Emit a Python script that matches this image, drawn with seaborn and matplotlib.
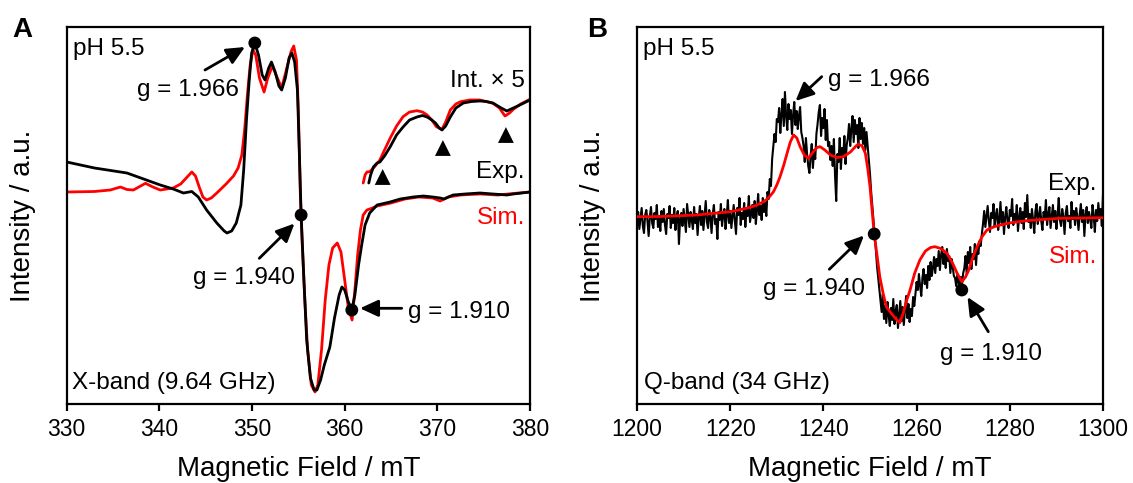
import numpy as np
import matplotlib
matplotlib.use("Agg")
import matplotlib.pyplot as plt
import seaborn as sns

# ---------------- Panel A : X-band (9.64 GHz) ----------------
xa_exp_field = [330.0, 331.0, 333.0, 336.5, 338.0, 340.1, 341.5, 342.6, 343.5, 344.2, 345.1, 346.2, 347.0, 347.3,
                347.8, 348.3, 348.8, 349.1, 349.4, 349.7, 349.96, 350.3, 350.7, 351.1, 351.4, 351.8, 352.1, 352.5,
                352.9, 353.2, 353.6, 354.0, 354.3, 354.6, 354.9, 355.1, 355.3, 355.6, 355.9, 356.3, 356.7, 357.0,
                357.4, 357.8, 358.4, 358.9, 359.4, 359.7, 360.0, 360.4, 360.77, 361.1, 361.5, 361.8, 362.2, 362.7,
                363.5, 364.9, 366.0, 367.4, 368.5, 369.5, 370.3, 370.7, 371.7, 373.0, 374.6, 376.0, 377.5, 378.2, 380.0]
xa_exp_int = [242, 240, 236, 231, 226, 219, 215, 211, 212.5, 207, 194, 181, 173, 171,
              173, 181, 199, 234, 284, 324, 351, 361, 349, 329, 324, 336, 342, 332,
              318, 314, 326, 346, 351, 342, 314, 254, 189, 124, 64, 26, 14, 14,
              24, 39, 57, 86, 109, 117, 114, 102, 94, 109, 139, 157, 179, 191,
              199, 202, 205, 207, 208, 207, 206, 205, 209, 210, 211, 210, 209, 210, 212]

xa_sim_field = [330.0, 333.0, 334.7, 335.8, 336.5, 337.2, 338.5, 339.3, 340.1, 341.5, 342.3, 342.8, 343.5, 343.9,
                344.3, 344.7, 345.1, 345.6, 346.2, 347.2, 348.0, 348.5, 348.9, 349.2, 349.5, 349.8, 350.1, 350.4,
                350.8, 351.3, 351.7, 352.2, 352.6, 353.2, 353.7, 354.2, 354.5, 354.8, 355.0, 355.2, 355.4, 355.7,
                356.0, 356.4, 356.8, 357.1, 357.5, 357.9, 358.3, 358.7, 359.2, 359.6, 360.0, 360.4, 360.8, 361.1,
                361.4, 361.7, 362.0, 362.4, 363.0, 363.5, 365.0, 366.5, 368.0, 369.5, 370.3, 371.2, 372.5, 374.6,
                376.5, 378.2, 380.0]
xa_sim_int = [212, 212.5, 214, 217, 214.5, 214, 220.7, 217, 214, 216, 220, 225, 232, 228,
              217, 207, 204, 206, 211, 220, 228, 236, 249, 274, 309, 339, 354, 349,
              326, 312, 326, 338, 329, 316, 334, 352, 358, 344, 294, 214, 164, 104,
              54, 19, 12, 19, 54, 104, 139, 156, 161, 152, 124, 96, 84, 114,
              149, 174, 189, 194, 196, 198, 201, 205, 207, 206, 203, 207, 209, 210,
              209, 210.5, 212]

# inset, intensity x 5
xa_exp5_field = [362.6, 362.8, 363.1, 363.5, 363.8, 364.3, 364.9, 365.6, 366.3, 367.0, 367.8, 368.4, 368.9, 369.4,
                 369.8, 370.2, 370.5, 370.9, 371.4, 372.0, 372.8, 373.7, 374.6, 375.3, 376.0, 376.8, 377.5, 378.2,
                 378.9, 380.0]
xa_exp5_int = [221, 229, 237, 241, 242, 248, 257, 269, 277, 284, 287, 288.5, 287, 284,
               281, 276, 274, 278, 287, 296, 301, 302.5, 303, 302.5, 301, 296.5, 293, 296,
               299, 304]
xa_sim5_field = [362.0, 362.2, 362.4, 362.7, 363.2, 363.8, 364.3, 364.9, 365.6, 366.3, 367.0, 367.8, 368.4, 368.9,
                 369.4, 369.9, 370.5, 370.9, 371.4, 372.0, 372.5, 373.5, 374.6, 376.0, 376.7, 377.3, 377.8, 378.2,
                 379.0, 380.0]
xa_sim5_int = [221, 229, 232, 232.3, 237, 244, 254, 265.7, 278, 287.3, 292, 293.3, 292, 289,
               284, 277.3, 274.7, 282, 294, 300, 302.3, 304, 304, 300.7, 296, 288, 291, 294.7,
               300, 304.7]

xa_marker_field = [364.1, 370.6, 377.4]
xa_marker_int = [227, 256, 269]

xa_g_field = [350.3, 355.3, 360.77]
xa_g_int = [361, 189, 94]
xa_g_labels = ["g = 1.966", "g = 1.940", "g = 1.910"]

# ---------------- Panel B : Q-band (34 GHz) ----------------
qb_field_start, qb_field_end = 1200.0, 1300.0   # sampled every 0.25 mT
qb_exp_int = [
    # 1200.00 - 1228.00
    180, 192, 175, 186, 196, 178, 171, 189, 194, 183,
    168, 187, 197, 181, 176, 191, 185, 199, 177, 188,
    173, 193, 182, 195, 179, 170, 190, 186, 198, 176,
    189, 181, 196, 174, 187, 193, 160, 185, 191, 178,
    195, 183, 172, 200, 188, 177, 192, 184, 175, 197,
    181, 190, 169, 186, 198, 179, 193, 174, 188, 203,
    182, 176, 194, 187, 171, 190, 199, 180, 185, 165,
    192, 184, 200, 178, 189, 195, 175, 188, 204, 181,
    193, 176, 187, 199, 183, 170, 196, 189, 206, 179,
    191, 185, 201, 177, 195, 188, 208, 182, 190, 199,
    186, 203, 180, 194, 210, 189, 198, 184, 206, 192,
    201, 188, 212,
    # 1228.25 - 1230.00
    205, 225, 218, 245, 258, 270, 262, 285,
    # 1230.25 - 1235.50
    282, 296, 271, 290, 305, 278, 312, 288, 274, 300, 285, 294, 270, 289, 302, 279, 293, 275, 288, 297, 272, 266,
    # 1235.75 - 1238.50
    258, 242, 266, 250, 238, 231, 248, 260, 236, 254, 245, 270,
    # 1238.75 - 1241.00
    280, 292, 299, 268, 286, 276, 295, 264, 284, 258,
    # 1241.25 - 1245.00
    262, 244, 258, 238, 265, 228, 203, 250, 242, 266, 235, 256, 247, 268, 240, 259,
    # 1245.25 - 1249.50
    266, 280, 258, 275, 288, 262, 284, 270, 279, 256, 286, 265, 281, 260, 276, 254, 272, 258,
    # 1249.75 - 1252.00
    245, 230, 212, 198, 184, 170, 155, 138, 126, 115,
    # 1252.25 - 1259.50
    104, 92, 110, 85, 98, 81, 102, 89, 78, 96, 84, 105, 80, 93, 99,
    76, 90, 103, 83, 97, 79, 94, 108, 86, 100, 82, 95, 88, 107, 98,
    # 1259.75 - 1264.00
    110, 122, 114, 130, 118, 108, 126, 135, 120, 129, 116, 138, 124, 142, 128, 136, 147, 131,
    # 1264.25 - 1268.00
    145, 138, 153, 134, 149, 157, 140, 150, 136, 155, 143, 148, 131, 145, 137, 128,
    # 1268.25 - 1270.00
    126, 118, 130, 122, 114, 127, 119, 131,
    # 1270.25 - 1274.00
    136, 148, 130, 152, 141, 157, 135, 150, 145, 160, 139, 156, 150, 163, 158, 170,
    # 1274.25 - 1300.00
    180, 193, 177, 188, 198, 183, 172, 191, 186, 200,
    178, 189, 195, 174, 185, 202, 181, 192, 170, 187,
    197, 183, 176, 194, 188, 205, 179, 190, 184, 199,
    173, 186, 196, 181, 192, 175, 201, 187, 209, 182,
    190, 176, 195, 184, 171, 193, 200, 180, 188, 197,
    183, 174, 192, 186, 204, 179, 190, 197, 176, 188,
    199, 182, 193, 175, 189, 206, 184, 178, 195, 187,
    170, 191, 198, 183, 188, 176, 202, 185, 193, 179,
    196, 187, 174, 190, 200, 182, 194, 168, 189, 197,
    181, 192, 185, 176, 199, 188, 172, 194, 183, 201,
    186, 195, 178, 210]

qb_sim_field = [1200, 1205, 1212.8, 1220, 1223.5, 1225.5, 1227.2, 1228.3, 1229.3, 1230.0, 1230.7, 1231.5, 1232.2,
                1232.9, 1233.6, 1234.3, 1235.0, 1235.9, 1236.8, 1237.8, 1238.6, 1239.3, 1240.3, 1241.5, 1242.9,
                1244.3, 1245.8, 1247.0, 1247.5, 1248.3, 1249.0, 1249.5, 1250.0, 1250.9, 1251.5, 1252.1, 1252.8,
                1253.5, 1254.5, 1255.5, 1256.4, 1257.2, 1257.9, 1258.6, 1259.6, 1260.7, 1261.9, 1263.0, 1263.9,
                1265.2, 1266.5, 1267.6, 1268.7, 1269.7, 1270.5, 1271.2, 1272.1, 1273.0, 1274.0, 1275.1, 1276.5,
                1278.0, 1280.5, 1283.7, 1287.0, 1290.9, 1295.0, 1300.0]
qb_sim_int = [187.3, 187.5, 189, 192.3, 195.7, 198.5, 202.3, 206.5, 212.3, 219, 227.3, 239, 250.7,
              262, 269, 266, 257.3, 249, 245.7, 252, 256.5, 257.3, 254, 249, 246.5,
              247.3, 252, 258, 260, 258, 250.7, 236, 217.3, 170, 149, 127.3, 111,
              97.3, 91, 85.5, 81.3, 92, 104, 114, 131, 144, 153, 156.5, 157.3,
              155.5, 150.7, 142, 130.7, 122.3, 127, 134, 147, 157.3, 167, 174, 177,
              179, 181.5, 183.3, 184.5, 185.7, 186, 186.3]

qb_g_field = [1250.9, 1269.7]
qb_g_int = [170, 114]
qb_g_labels = ["g = 1.966", "g = 1.940", "g = 1.910"]

# ---------------- figure ----------------
sns.set_theme(style="ticks")
plt.rcParams["font.family"] = ["Liberation Sans", "DejaVu Sans"]
plt.rcParams["text.color"] = "black"
plt.rcParams["axes.labelcolor"] = "black"
plt.rcParams["axes.linewidth"] = 1.6

W, H = 1133, 483
fig = plt.figure(figsize=(W / 100, H / 100), dpi=100)
axA = fig.add_axes([66.7 / W, 1 - 404 / H, (530 - 66.7) / W, 377 / H])
axB = fig.add_axes([637 / W, 1 - 404 / H, (1103 - 637) / W, 377 / H])

RED = "#ff0000"
LW = 2.0

# Panel A curves
sns.lineplot(x=xa_exp_field, y=xa_exp_int, ax=axA, color="black", lw=LW, estimator=None, sort=False, zorder=3)
sns.lineplot(x=xa_sim_field, y=xa_sim_int, ax=axA, color=RED, lw=LW, estimator=None, sort=False, zorder=2)
sns.lineplot(x=xa_sim5_field, y=xa_sim5_int, ax=axA, color=RED, lw=LW, estimator=None, sort=False, zorder=2)
sns.lineplot(x=xa_exp5_field, y=xa_exp5_int, ax=axA, color="black", lw=LW, estimator=None, sort=False, zorder=3)
sns.scatterplot(x=xa_marker_field, y=xa_marker_int, ax=axA, marker="^", color="black", s=130, edgecolor="none", zorder=4)
sns.scatterplot(x=xa_g_field, y=xa_g_int, ax=axA, color="black", s=85, edgecolor="none", zorder=5)

# Panel B curves
qb_field = np.linspace(qb_field_start, qb_field_end, len(qb_exp_int))
sns.lineplot(x=qb_field, y=qb_exp_int, ax=axB, color="black", lw=1.5, estimator=None, sort=False, zorder=2)
sns.lineplot(x=qb_sim_field, y=qb_sim_int, ax=axB, color=RED, lw=LW, estimator=None, sort=False, zorder=3)
sns.scatterplot(x=qb_g_field, y=qb_g_int, ax=axB, color="black", s=85, edgecolor="none", zorder=5)

for ax, lim, ticks in [(axA, (330, 380), [330, 340, 350, 360, 370, 380]),
                       (axB, (1200, 1300), [1200, 1220, 1240, 1260, 1280, 1300])]:
    ax.set_xlim(*lim)
    ax.set_ylim(0, 377)
    ax.set_xticks(ticks)
    ax.set_xticklabels([str(t) for t in ticks])
    ax.set_yticks([])
    ax.tick_params(axis="x", direction="out", length=5, width=1.6, labelsize=16.5, pad=5, colors="black")
    for s in ax.spines.values():
        s.set_visible(True)
        s.set_color("black")
        s.set_linewidth(1.6)
    ax.set_xlabel("Magnetic Field / mT", fontsize=20, labelpad=11, color="black")
    ax.set_ylabel("Intensity / a.u.", fontsize=20, labelpad=22, color="black")
    ax.set_facecolor("white")


def ftext(x, y, s, **kw):
    kw.setdefault("fontsize", 17.5)
    kw.setdefault("color", "black")
    fig.text(x / W, 1 - y / H, s, va="baseline", **kw)


def farrow(tail, head):
    fig.add_artist(matplotlib.patches.FancyArrowPatch(
        (tail[0] / W, 1 - tail[1] / H), (head[0] / W, 1 - head[1] / H),
        transform=fig.transFigure, arrowstyle="-|>,head_length=0.65,head_width=0.3",
        mutation_scale=17, lw=2, color="black", shrinkA=0, shrinkB=0, zorder=10))


# Panel A texts
ftext(72.7, 55, "pH 5.5")
ftext(71.7, 389, "X-band (9.64 GHz)")
ftext(137, 96, xa_g_labels[0])
ftext(192.7, 284.3, xa_g_labels[1])
ftext(408, 318.3, xa_g_labels[2])
ftext(525, 86.7, "Int. \u00d7 5", ha="right")
ftext(525, 178.3, "Exp.", ha="right")
ftext(525, 224.3, "Sim.", ha="right", color=RED)
farrow((205, 70), (245, 47))
farrow((259.3, 258.3), (294.5, 223.5))
farrow((401.7, 308.3), (360, 308.3))

# Panel B texts
ftext(643, 55, "pH 5.5")
ftext(644, 389, "Q-band (34 GHz)")
ftext(828, 85.7, qb_g_labels[0])
ftext(763.3, 295, qb_g_labels[1])
ftext(940, 360, qb_g_labels[2])
ftext(1097, 190, "Exp.", ha="right")
ftext(1097, 262.7, "Sim.", ha="right", color=RED)
farrow((821.7, 76.7), (795.5, 101))
farrow((829.3, 269.3), (864, 235.5))
farrow((988.3, 331.7), (967.5, 297))

# panel letters
ftext(12, 37, "A", fontsize=20, fontweight="bold")
ftext(587, 37, "B", fontsize=20, fontweight="bold")

fig.savefig("out.png", dpi=100, facecolor="white")
